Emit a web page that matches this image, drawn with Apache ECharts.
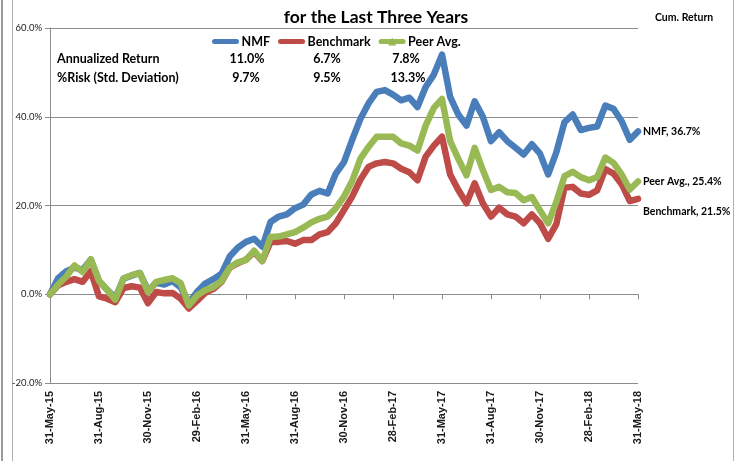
<!DOCTYPE html>
<html>
<head>
<meta charset="utf-8">
<script src="https://cdn.jsdelivr.net/npm/echarts@6/dist/echarts.min.js"></script>
<style>
html,body{margin:0;padding:0;background:#fff;}
#chart{width:737px;height:461px;}
</style>
</head>
<body>
<div id="chart"></div>
<script>
var categories = [
'31-May-15','15-Jun-15','30-Jun-15','15-Jul-15','31-Jul-15','15-Aug-15','31-Aug-15','15-Sep-15','30-Sep-15','15-Oct-15','31-Oct-15','15-Nov-15','30-Nov-15','15-Dec-15','31-Dec-15','15-Jan-16','31-Jan-16','15-Feb-16','29-Feb-16','15-Mar-16','31-Mar-16','15-Apr-16','30-Apr-16','15-May-16',
'31-May-16','15-Jun-16','30-Jun-16','15-Jul-16','31-Jul-16','15-Aug-16','31-Aug-16','15-Sep-16','30-Sep-16','15-Oct-16','31-Oct-16','15-Nov-16','30-Nov-16','15-Dec-16','31-Dec-16','15-Jan-17','31-Jan-17','15-Feb-17','28-Feb-17','15-Mar-17','31-Mar-17','15-Apr-17','30-Apr-17','15-May-17',
'31-May-17','15-Jun-17','30-Jun-17','15-Jul-17','31-Jul-17','15-Aug-17','31-Aug-17','15-Sep-17','30-Sep-17','15-Oct-17','31-Oct-17','15-Nov-17','30-Nov-17','15-Dec-17','31-Dec-17','15-Jan-18','31-Jan-18','15-Feb-18','28-Feb-18','15-Mar-18','31-Mar-18','15-Apr-18','30-Apr-18','15-May-18','31-May-18'
];
var nmf = [0,3.6,5.2,6.0,5.5,7.8,3.0,1.0,-0.8,3.5,4.2,4.8,0.8,2.6,2.2,3.0,1.5,-2.0,0.5,2.4,3.4,4.6,8.5,10.5,
11.8,12.5,10.7,16.3,17.5,18.0,19.4,20.2,22.5,23.3,22.7,27.2,29.8,34.8,39.5,43.0,45.6,46.0,45.0,43.7,44.3,42.2,46.7,49.5,
54.0,44.5,40.5,38.0,43.5,40.0,34.5,36.5,34.5,33.0,31.5,33.8,31.7,27.0,32.0,38.8,40.5,37.0,37.5,37.8,42.5,41.8,39.0,34.8,36.7];
var benchmark = [0,2.0,2.8,3.4,2.8,5.2,-0.5,-1.0,-1.8,1.4,1.8,1.5,-2.0,0.5,0.2,0.3,-1.0,-3.2,-1.5,0.3,1.2,2.8,6.0,7.0,
7.8,9.5,7.5,11.8,11.8,12.0,11.4,12.2,12.2,13.5,14.0,16.0,19.0,22.0,25.8,28.7,29.5,29.8,29.5,28.3,27.5,25.7,31.0,33.5,
35.5,27.0,23.5,20.5,25.0,20.5,17.5,19.5,18.0,17.5,16.0,18.0,16.0,12.5,15.8,24.0,24.2,22.7,22.4,23.4,28.2,27.2,24.8,21.0,21.5];
var peer = [0,2.2,4.0,6.5,5.0,7.9,3.0,1.0,-1.2,3.6,4.3,4.8,0.5,2.8,3.2,3.6,2.5,-2.5,-0.3,0.9,1.6,3.0,6.0,7.2,
7.7,9.8,7.5,12.9,13.0,13.5,14.0,15.0,16.2,17.0,17.5,19.4,22.0,25.5,30.5,33.2,35.5,35.5,35.5,34.0,33.5,32.4,38.0,42.0,
44.0,34.5,30.5,26.8,33.0,28.0,23.5,24.2,23.0,22.8,21.2,21.9,18.9,16.0,20.8,26.6,27.6,26.4,25.7,26.4,30.8,29.6,27.0,23.6,25.4];
var seriesNames = ['NMF','Benchmark','Peer Avg.'];
var tableRows = ['Annualized Return','%Risk (Std. Deviation)'];
var annualized = ['11.0%','6.7%','7.8%'];
var risk = ['9.7%','9.5%','13.3%'];

var FONT = 'Lato,"Liberation Sans",Arial,sans-serif';
var AFONT = '"Liberation Sans",Arial,sans-serif';
var chart = echarts.init(document.getElementById('chart'));
var colors = ['#4A7EBB','#BE4B48','#98B954'];
var colX1 = [247,327,406];
var colX2 = [246,327,408];
var graphics = [];
graphics.push({type:'text',left:57,top:52,style:{text:tableRows[0],font:'bold 12.5px '+FONT,fill:'#000'}});
graphics.push({type:'text',left:57,top:71,style:{text:tableRows[1],font:'bold 12.5px '+FONT,fill:'#000'}});
for (var i=0;i<3;i++){
  graphics.push({type:'text',x:colX1[i],y:59,style:{text:annualized[i],font:'bold 12.5px '+FONT,fill:'#000',align:'center',verticalAlign:'middle'}});
  graphics.push({type:'text',x:colX2[i],y:78,style:{text:risk[i],font:'bold 12.5px '+FONT,fill:'#000',align:'center',verticalAlign:'middle'}});
}
graphics.push({type:'line',shape:{x1:2,y1:0,x2:2,y2:461},style:{stroke:'#9a9a9a',lineWidth:2}});
graphics.push({type:'line',shape:{x1:12.5,y1:0,x2:12.5,y2:461},style:{stroke:'#b0b0b0',lineWidth:1}});
graphics.push({type:'line',shape:{x1:733.5,y1:0,x2:733.5,y2:461},style:{stroke:'#b0b0b0',lineWidth:1}});

function mk(idx, data, extra){
  var s = {
    name: seriesNames[idx], type:'line', data:data, xAxisIndex:0,
    symbol: idx===2 ? 'triangle' : 'none', showSymbol:false, symbolSize:10,
    smooth:false,
    lineStyle:{color:colors[idx], width:6.5, join:'round', cap:'round'},
    itemStyle:{color:colors[idx]},
    emphasis:{disabled:true},
    endLabel:{show:true, distance:5, color:'#000', fontFamily:FONT, fontWeight:'bold', fontSize:10.5,
      formatter:function(p){return p.seriesName+', '+p.value.toFixed(1)+'%';}}
  };
  if (extra) s.endLabel.offset = extra;
  return s;
}

chart.setOption({
  animation:false,
  backgroundColor:'#fff',
  textStyle:{fontFamily:FONT},
  title:[
    {text:'for the Last Three Years', left:371, top:3, textAlign:'center',
     textStyle:{fontFamily:FONT,fontWeight:'bold',fontSize:17.5,color:'#000'}},
    {text:'Cum. Return', left:650, top:7,
     textStyle:{fontFamily:FONT,fontWeight:'bold',fontSize:10.5,color:'#000'}}
  ],
  legend:{
    data:[
      {name:'NMF', itemStyle:{opacity:0}, lineStyle:{width:5}},
      {name:'Benchmark', itemStyle:{opacity:0}, lineStyle:{width:5}},
      {name:'Peer Avg.', lineStyle:{width:5}}
    ],
    left:212, top:35, itemGap:8, itemWidth:22, itemHeight:10, padding:0,
    textStyle:{fontFamily:FONT,fontWeight:'bold',fontSize:12.5,color:'#000'}
  },
  grid:{left:50, right:99, top:28, bottom:78},
  xAxis:[
    {type:'category', data:categories, boundaryGap:false,
     axisLine:{onZero:true, lineStyle:{color:'#8c8c8c',width:1}},
     axisTick:{show:true, interval:5, length:5, lineStyle:{color:'#8c8c8c'}},
     axisLabel:{show:false}, splitLine:{show:false}},
    {type:'category', data:categories, boundaryGap:false, position:'bottom',
     axisLine:{show:false, onZero:false}, axisTick:{show:false},
     axisLabel:{show:true, interval:5, rotate:90, margin:8, color:'#1a1a1a',
       fontFamily:AFONT, fontWeight:'bold', fontSize:11}}
  ],
  yAxis:{type:'value', min:-20, max:60, interval:20,
    axisLine:{show:true, lineStyle:{color:'#8c8c8c'}},
    axisTick:{show:true, length:5, lineStyle:{color:'#8c8c8c'}},
    axisLabel:{color:'#222', fontFamily:FONT, fontSize:9.5, margin:8,
      formatter:function(v){return v.toFixed(1)+'%';}},
    splitLine:{show:true, lineStyle:{color:'#8c8c8c',width:1}}
  },
  series:[mk(0,nmf), mk(1,benchmark,[0,13]), mk(2,peer)],
  graphic:graphics
});
</script>
</body>
</html>
